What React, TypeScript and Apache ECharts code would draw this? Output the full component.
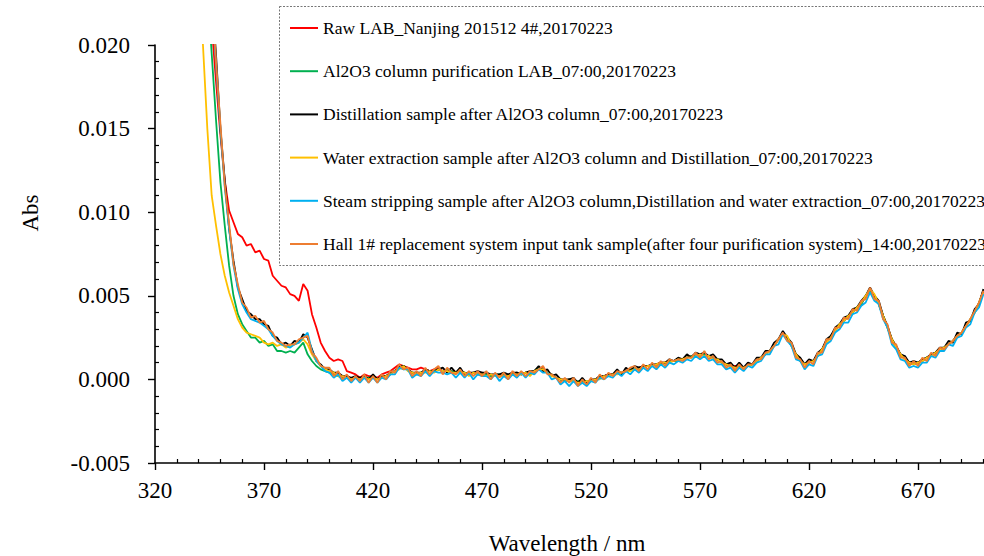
import React, { useEffect, useRef } from "react";
import * as echarts from "echarts";

// Wavelength grid of the spectra (nm)
const wavelengthStart = 340;
const wavelengthStep = 2;

// Absorbance values in units of 1e-4 Abs, 340..700 nm every 2 nm (181 points)
const rawLab = [
  400, 320, 260, 212, 178, 146, 119, 101, 94, 87,
  85, 80, 81, 76, 77, 72, 71, 62, 59, 56,
  55, 51, 50, 47, 57, 53, 39, 31, 22, 17,
  13, 11, 12, 11, 5, 4, 3, 1, 3, 2,
  2, 1, 3, 4, 5, 7, 9, 8, 7, 6,
  6, 7, 6, 5, 6, 7, 5, 6, 5, 4,
  5, 4, 3, 4, 3, 4, 3, 2, 3, 2,
  3, 2, 3, 4, 3, 4, 3, 5, 6, 7,
  4, 3, 1, 0, -1, 0, -1, -2, -1, -2,
  -1, 0, 1, 2, 3, 3, 4, 4, 5, 6,
  6, 7, 8, 8, 8, 9, 10, 10, 11, 11,
  12, 12, 13, 14, 15, 15, 15, 14, 13, 12,
  10, 9, 8, 8, 8, 7, 8, 9, 11, 13,
  15, 17, 20, 24, 27, 25, 20, 15, 11, 9,
  10, 11, 14, 18, 22, 26, 29, 33, 35, 38,
  40, 43, 45, 50, 53, 50, 45, 38, 31, 24,
  19, 15, 12, 10, 9, 10, 11, 13, 14, 16,
  18, 19, 21, 23, 26, 28, 32, 36, 40, 46,
  53,
];

const al2o3Column = [
  330, 280, 235, 195, 155, 118, 92, 68, 50, 39,
  33, 29, 25, 25, 22, 23, 20, 21, 17, 17,
  16, 17, 16, 19, 22, 15, 11, 8, 6, 5,
  4, 3, 2, 1, 1, 0, 1, 0, 1, 1,
  1, 0, 2, 2, 3, 5, 7, 8, 6, 4,
  3, 4, 5, 5, 5, 6, 5, 6, 5, 4,
  5, 4, 3, 4, 3, 3, 3, 2, 3, 3,
  3, 2, 3, 4, 3, 4, 3, 5, 7, 6,
  4, 3, 1, 0, -1, 0, -1, -1, -1, -1,
  -1, 0, 1, 2, 2, 3, 4, 4, 5, 6,
  6, 7, 7, 8, 8, 9, 9, 10, 11, 11,
  11, 12, 13, 14, 14, 15, 15, 14, 13, 12,
  10, 9, 8, 7, 8, 7, 8, 9, 11, 13,
  15, 17, 20, 24, 27, 25, 20, 15, 11, 9,
  10, 11, 14, 18, 22, 26, 29, 33, 35, 38,
  40, 43, 45, 50, 53, 50, 45, 38, 31, 24,
  19, 15, 12, 10, 9, 10, 11, 13, 14, 16,
  18, 19, 21, 23, 26, 28, 32, 36, 40, 46,
  53,
];

const distillation = [
  425, 348, 292, 232, 194, 150, 119, 90, 71, 55,
  48, 41, 39, 36, 36, 33, 32, 26, 25, 21,
  22, 20, 23, 22, 27, 25, 18, 11, 9, 6,
  6, 4, 4, 2, 2, 1, 2, 1, 2, 0,
  3, 0, 2, 2, 4, 5, 8, 8, 6, 4,
  4, 4, 6, 5, 5, 6, 7, 4, 7, 4,
  7, 3, 4, 4, 5, 4, 4, 3, 3, 3,
  4, 3, 4, 4, 3, 4, 5, 5, 8, 5,
  6, 2, 3, 0, 0, 0, 1, -2, 1, -2,
  0, 0, 2, 2, 3, 3, 6, 3, 7, 5,
  8, 7, 8, 8, 9, 9, 10, 10, 12, 11,
  13, 12, 15, 13, 16, 15, 16, 14, 15, 12,
  12, 9, 10, 7, 10, 7, 10, 9, 13, 13,
  17, 17, 22, 24, 29, 25, 22, 15, 13, 9,
  12, 11, 16, 18, 24, 26, 31, 33, 37, 38,
  42, 43, 47, 50, 55, 50, 47, 38, 32, 24,
  20, 15, 14, 10, 11, 10, 12, 13, 15, 16,
  19, 19, 23, 22, 28, 27, 34, 35, 42, 45,
  54,
];

const waterExtraction = [
  260, 200, 150, 110, 92, 75, 62, 52, 44, 36,
  31, 28, 27, 26, 25, 22, 21, 22, 20, 21,
  19, 20, 21, 22, 24, 21, 15, 11, 8, 6,
  5, 4, 2, 2, 1, 0, 1, 0, 1, 0,
  1, 0, 1, 2, 3, 5, 6, 8, 5, 4,
  3, 4, 4, 5, 4, 6, 5, 5, 4, 4,
  4, 4, 2, 4, 3, 3, 2, 3, 2, 2,
  2, 2, 3, 3, 3, 4, 2, 5, 6, 6,
  4, 2, 1, 0, 0, -1, -1, -2, -2, -1,
  -1, 0, 0, 2, 2, 3, 3, 4, 5, 5,
  6, 6, 7, 8, 8, 9, 10, 10, 10, 11,
  12, 12, 13, 13, 14, 15, 14, 14, 12, 12,
  10, 9, 8, 7, 7, 7, 8, 9, 11, 13,
  15, 17, 20, 24, 27, 26, 20, 15, 11, 9,
  10, 11, 14, 18, 22, 25, 29, 33, 35, 38,
  40, 43, 46, 50, 54, 51, 45, 38, 31, 24,
  19, 15, 12, 10, 9, 10, 11, 13, 14, 16,
  18, 19, 21, 23, 26, 28, 32, 36, 40, 46,
  52,
];

const steamStripping = [
  418, 345, 286, 230, 188, 150, 115, 90, 68, 54,
  45, 40, 36, 35, 34, 32, 30, 26, 23, 21,
  20, 19, 21, 22, 25, 28, 17, 11, 8, 5,
  4, 1, 3, -1, 1, -2, 1, -2, 1, -2,
  1, -2, 1, 0, 3, 3, 7, 6, 6, 1,
  3, 2, 5, 2, 5, 4, 4, 3, 4, 1,
  4, 1, 4, 0, 3, 2, 2, 0, 3, -1,
  2, 0, 3, 1, 4, 1, 4, 3, 6, 4,
  4, 0, 1, -3, -1, -4, -1, -4, -2, -4,
  -1, -2, 1, 0, 2, 1, 4, 2, 5, 3,
  6, 4, 7, 5, 8, 6, 9, 7, 10, 9,
  11, 10, 12, 11, 14, 12, 14, 11, 12, 9,
  9, 6, 7, 4, 7, 5, 8, 7, 10, 11,
  15, 15, 20, 21, 27, 23, 20, 12, 11, 6,
  9, 8, 14, 15, 21, 23, 28, 30, 34, 34,
  39, 40, 44, 46, 52, 47, 45, 36, 31, 21,
  18, 12, 11, 7, 8, 7, 10, 10, 14, 13,
  17, 17, 21, 20, 25, 26, 31, 33, 40, 43,
  51,
];

const hallInputTank = [
  420, 352, 288, 236, 190, 153, 116, 93, 69, 57,
  46, 43, 37, 38, 34, 35, 30, 28, 23, 22,
  20, 21, 21, 24, 25, 26, 16, 13, 8, 7,
  7, 2, 5, 0, 3, -1, 2, -1, 3, -2,
  2, -2, 3, 0, 5, 4, 9, 6, 7, 2,
  5, 2, 7, 3, 6, 8, 3, 7, 4, 3,
  6, 2, 5, 2, 5, 2, 5, 0, 4, 1,
  4, 0, 5, 2, 5, 2, 5, 4, 6, 8,
  3, 3, 1, -2, 1, -2, 1, -4, 0, -3,
  1, -2, 3, 0, 4, 2, 5, 4, 5, 7,
  8, 5, 9, 6, 10, 7, 11, 8, 12, 11,
  12, 11, 13, 13, 16, 13, 17, 12, 14, 10,
  11, 7, 9, 5, 9, 6, 9, 9, 12, 12,
  16, 17, 20, 24, 28, 23, 22, 13, 12, 7,
  11, 9, 16, 16, 24, 24, 31, 31, 37, 36,
  42, 41, 47, 48, 55, 48, 47, 36, 33, 22,
  21, 13, 13, 8, 11, 8, 13, 11, 16, 14,
  19, 18, 21, 23, 26, 28, 32, 36, 41, 46,
  53,
];

const seriesNames = [
  "Raw LAB_Nanjing 201512 4#,20170223",
  "Al2O3 column purification LAB_07:00,20170223",
  "Distillation sample after Al2O3 column_07:00,20170223",
  "Water extraction sample after Al2O3 column and Distillation_07:00,20170223",
  "Steam stripping sample after Al2O3 column,Distillation and water extraction_07:00,20170223",
  "Hall 1# replacement system input tank sample(after four purification system)_14:00,20170223",
];
const seriesValues = [rawLab, al2o3Column, distillation, waterExtraction, steamStripping, hallInputTank];
const seriesColors = ["#FF0000", "#00B050", "#000000", "#FFC000", "#00B0F0", "#ED7D31"];

const xMin = 320;
const xMax = 720;
const xInterval = 50;
const yMin = -0.005;
const yMax = 0.02;
const yInterval = 0.005;

const xAxisTitle = "Wavelength / nm";
const yAxisTitle = "Abs";

const FONT = "Times New Roman";

export default function App() {
  const ref = useRef<HTMLDivElement>(null);
  useEffect(() => {
    if (!ref.current) return;
    const chart = echarts.init(ref.current, undefined, { renderer: "svg" });
    const series = seriesValues.map((vals, si) => ({
      name: seriesNames[si],
      type: "line",
      color: seriesColors[si],
      symbol: "none",
      showSymbol: false,
      clip: true,
      lineStyle: { width: 1.8, color: seriesColors[si] },
      data: vals.map((v, i) => [wavelengthStart + i * wavelengthStep, v / 10000]),
    }));
    chart.setOption({
      animation: false,
      backgroundColor: "#ffffff",
      textStyle: { fontFamily: FONT, color: "#000" },
      grid: {
        left: 155,
        top: 45,
        width: 872,
        height: 418,
        containLabel: false,
        outerBoundsMode: "none",
      },
      xAxis: {
        type: "value",
        min: xMin,
        max: xMax,
        interval: xInterval,
        axisLine: { show: true, onZero: false, lineStyle: { color: "#000", width: 1.6 } },
        axisTick: { show: true, length: 7, lineStyle: { color: "#000", width: 1.4 } },
        minorTick: { show: true, splitNumber: 5, length: -4, lineStyle: { color: "#000", width: 1.2 } },
        splitLine: { show: false },
        axisLabel: {
          fontFamily: FONT,
          fontSize: 23,
          color: "#000",
          margin: 16,
          showMaxLabel: false,
        },
      },
      yAxis: {
        type: "value",
        min: yMin,
        max: yMax,
        interval: yInterval,
        axisLine: { show: true, onZero: false, lineStyle: { color: "#000", width: 1.6 } },
        axisTick: { show: true, length: 7, lineStyle: { color: "#000", width: 1.4 } },
        minorTick: { show: true, splitNumber: 5, length: -4, lineStyle: { color: "#000", width: 1.2 } },
        splitLine: { show: false },
        axisLabel: {
          fontFamily: FONT,
          fontSize: 23,
          color: "#000",
          margin: 25,
          formatter: (v: number) => v.toFixed(3),
        },
      },
      legend: {
        orient: "vertical",
        left: 290,
        top: 19,
        padding: 0,
        itemGap: 25.2,
        itemWidth: 28,
        itemHeight: 2,
        icon: "rect",
        selectedMode: false,
        data: seriesNames,
        textStyle: { fontFamily: FONT, fontSize: 17.5, color: "#000", lineHeight: 18 },
      },
      graphic: [
        {
          type: "rect",
          left: 279,
          top: 6,
          shape: { width: 720, height: 259 },
          style: { fill: "rgba(0,0,0,0)", stroke: "#777", lineWidth: 1, lineDash: [2, 1.5] },
          z: 1,
          silent: true,
        },
        {
          type: "text",
          x: 30,
          y: 213,
          rotation: Math.PI / 2,
          style: { text: yAxisTitle, fontFamily: FONT, fontSize: 23, fill: "#000", align: "center", verticalAlign: "middle" },
        },
        {
          type: "text",
          x: 567,
          y: 543,
          style: { text: xAxisTitle, fontFamily: FONT, fontSize: 23, fill: "#000", align: "center", verticalAlign: "middle" },
        },
      ],
      series,
    });
    return () => chart.dispose();
  }, []);
  return <div ref={ref} style={{ position: "fixed", left: 0, top: 0, width: 984, height: 556, background: "#fff" }} />;
}
